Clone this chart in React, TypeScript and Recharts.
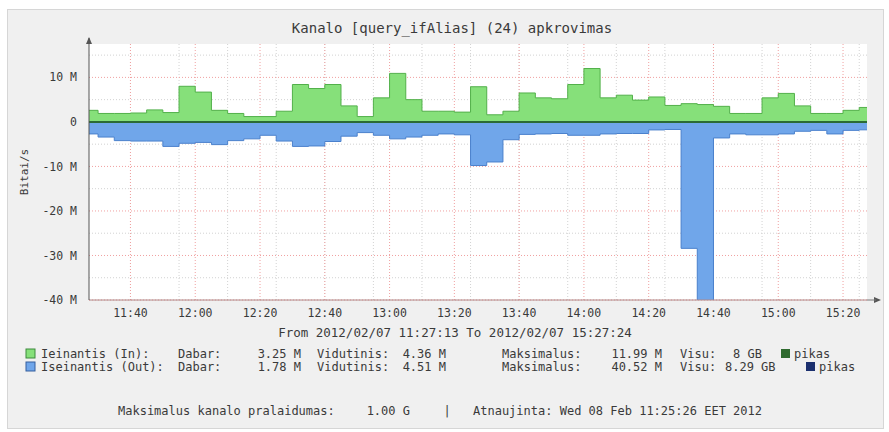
import React from "react";
import {
  Area,
  CartesianGrid,
  ComposedChart,
  ReferenceLine,
  XAxis,
  YAxis,
} from "recharts";

// minutes after 11:00, one value per 5 minute step (first step is partial, from 11:27:13)
const stepStart = [
  27.2, 30, 35, 40, 45, 50, 55, 60, 65, 70, 75, 80, 85, 90, 95, 100, 105, 110,
  115, 120, 125, 130, 135, 140, 145, 150, 155, 160, 165, 170, 175, 180, 185,
  190, 195, 200, 205, 210, 215, 220, 225, 230, 235, 240, 245, 250, 255, 260,
  265,
];
const graphEnd = 267.4; // 15:27:24

// Mbit/s
const inMbit = [
  2.6, 1.9, 1.9, 2.0, 2.7, 2.1, 8.0, 6.7, 2.6, 1.9, 1.2, 1.2, 2.4, 8.4, 7.5,
  8.4, 3.6, 1.2, 5.4, 10.9, 5.0, 2.4, 2.4, 2.2, 7.9, 1.6, 2.4, 6.5, 5.4, 5.2,
  8.4, 11.99, 5.4, 6.0, 4.9, 5.6, 3.7, 4.1, 3.9, 3.5, 1.9, 1.9, 5.4, 6.4, 3.6,
  1.9, 1.9, 2.6, 3.25,
];
const outMbit = [
  2.7, 3.4, 4.2, 4.3, 4.3, 5.5, 4.8, 4.6, 5.1, 4.2, 3.8, 3.0, 4.3, 5.5, 5.4,
  4.4, 3.2, 2.4, 3.0, 3.8, 3.4, 3.0, 2.7, 2.9, 9.8, 9.0, 4.0, 2.8, 2.7, 2.6,
  3.0, 3.0, 2.7, 2.6, 2.6, 1.8, 1.7, 28.4, 40.52, 3.6, 2.7, 2.9, 2.9, 2.7, 2.1,
  1.9, 2.7, 1.9, 1.78,
];

const timeTicks = [40, 60, 80, 100, 120, 140, 160, 180, 200, 220, 240, 260];
const valueTicks = [-40, -30, -20, -10, 0, 10];
const minorValues = [-35, -25, -15, -5, 5, 15];

const rows = stepStart.map((t, i) => ({ t, inV: inMbit[i], outV: -outMbit[i] }));
rows.push({
  t: graphEnd,
  inV: inMbit[inMbit.length - 1],
  outV: -outMbit[outMbit.length - 1],
});

const mono = "'DejaVu Sans Mono', monospace";
const textCol = "#3a3a3a";

const fmtTime = (m: number) => {
  const h = 11 + Math.floor(m / 60);
  const mm = Math.round(m % 60);
  return `${h}:${mm < 10 ? "0" + mm : mm}`;
};
const fmtVal = (v: number) => (v === 0 ? "0" : `${v} M`);

const legendRows = [
  {
    y: 354,
    color: "#86e07a",
    border: "#3d8a3d",
    name: "Ieinantis (In):",
    now: "3.25 M",
    avg: "4.36 M",
    max: "11.99 M",
    total: "8 GB",
    totalX: 733,
    peakX: 781,
    peakColor: "#2f6a2f",
  },
  {
    y: 367,
    color: "#70a6ea",
    border: "#355f9e",
    name: "Iseinantis (Out):",
    now: "1.78 M",
    avg: "4.51 M",
    max: "40.52 M",
    total: "8.29 GB",
    totalX: 725,
    peakX: 806,
    peakColor: "#1b2f6e",
  },
];

export default function App() {
  return (
    <div
      style={{
        position: "absolute",
        left: 0,
        top: 0,
        width: 889,
        height: 432,
        background: "#fff",
        overflow: "hidden",
      }}
    >
      <div
        style={{
          position: "absolute",
          left: 7,
          top: 9,
          width: 875,
          height: 418,
          background: "#f0f0f0",
          border: "1px solid #d6d6d6",
        }}
      />
      <div style={{ position: "absolute", left: 0, top: 0 }}>
        <ComposedChart
          width={889}
          height={432}
          data={rows}
          margin={{ top: 44, right: 22, left: 0, bottom: 102 }}
        >
          <CartesianGrid
            fill="#ffffff"
            stroke="#d2d2d2"
            strokeDasharray="1 2"
            verticalValues={stepStart.slice(1)}
            horizontalValues={minorValues}
          />
          <CartesianGrid
            stroke="#f0a0a0"
            strokeDasharray="1 2"
            verticalValues={timeTicks}
            horizontalValues={valueTicks}
          />
          <XAxis
            dataKey="t"
            type="number"
            domain={[27.2, graphEnd]}
            ticks={timeTicks}
            tickFormatter={fmtTime}
            allowDataOverflow
            height={30}
            axisLine={{ stroke: "#b08888" }}
            tickLine={false}
            tickMargin={3}
            tick={{ fill: textCol, fontSize: 11.5, fontFamily: mono }}
          />
          <YAxis
            type="number"
            domain={[-40, 17.5]}
            ticks={valueTicks}
            tickFormatter={fmtVal}
            allowDataOverflow
            width={89}
            axisLine={{ stroke: "#555" }}
            tickLine={false}
            tickMargin={6}
            tick={{ fill: textCol, fontSize: 11.5, fontFamily: mono }}
          />
          <Area
            type="stepAfter"
            dataKey="inV"
            baseValue={0}
            fill="#86e07a"
            fillOpacity={1}
            stroke="#52b04a"
            strokeWidth={1}
            isAnimationActive={false}
          />
          <Area
            type="stepAfter"
            dataKey="outV"
            baseValue={0}
            fill="#70a6ea"
            fillOpacity={1}
            stroke="#4a80cc"
            strokeWidth={1}
            isAnimationActive={false}
          />
          <ReferenceLine y={0} stroke="#2b6b35" strokeWidth={2} />
        </ComposedChart>
      </div>
      <svg
        width={889}
        height={432}
        style={{ position: "absolute", left: 0, top: 0, pointerEvents: "none" }}
        fontFamily={mono}
        fill={textCol}
      >
        <text x={452} y={33} fontSize={14} textAnchor="middle">
          Kanalo [query_ifAlias] (24) apkrovimas
        </text>
        <text
          x={28}
          y={172}
          fontSize={11}
          textAnchor="middle"
          transform="rotate(-90 28 172)"
        >
          Bitai/s
        </text>
        {/* axis arrows */}
        <path d="M86,44 L89,37 L92,44 Z" fill="#555" />
        <path d="M874,297 L881,300 L874,303 Z" fill="#555" />
        <line x1={867} y1={300} x2={876} y2={300} stroke="#777" />
        <line x1={89} y1={38} x2={89} y2={44} stroke="#555" />
        <text x={455} y={337} fontSize={12.5} textAnchor="middle">
          From 2012/02/07 11:27:13 To 2012/02/07 15:27:24
        </text>
        {legendRows.map((r) => (
          <g key={r.name} fontSize={12}>
            <rect x={26} y={r.y - 5} width={9} height={9} fill={r.color} stroke={r.border} />
            <text x={41} y={r.y + 4}>{r.name}</text>
            <text x={178} y={r.y + 4}>Dabar:</text>
            <text x={301} y={r.y + 4} textAnchor="end">{r.now}</text>
            <text x={317} y={r.y + 4}>Vidutinis:</text>
            <text x={446} y={r.y + 4} textAnchor="end">{r.avg}</text>
            <text x={502} y={r.y + 4}>Maksimalus:</text>
            <text x={662} y={r.y + 4} textAnchor="end">{r.max}</text>
            <text x={680} y={r.y + 4}>Visu:</text>
            <text x={r.totalX} y={r.y + 4}>{r.total}</text>
            <rect x={r.peakX} y={r.y - 5} width={9} height={9} fill={r.peakColor} />
            <text x={r.peakX + 13} y={r.y + 4}>pikas</text>
          </g>
        ))}
        <g fontSize={12}>
          <text x={118} y={415}>Maksimalus kanalo pralaidumas:</text>
          <text x={410} y={415} textAnchor="end">1.00 G</text>
          <text x={447} y={415} textAnchor="middle">|</text>
          <text x={473} y={415}>Atnaujinta: Wed 08 Feb 11:25:26 EET 2012</text>
        </g>
      </svg>
    </div>
  );
}
